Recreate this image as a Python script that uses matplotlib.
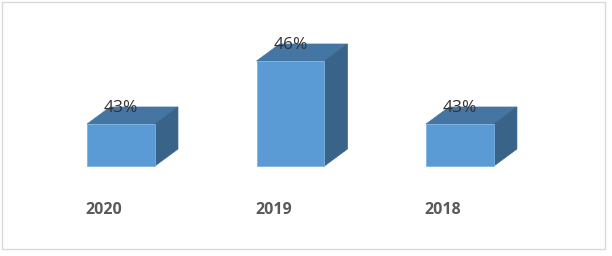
import matplotlib.pyplot as plt
from matplotlib.patches import Polygon, Rectangle

years = ['2020', '2019', '2018']
values = [43, 46, 43]
labels = ['43%', '46%', '43%']
base = 41

front = '#5b9bd5'
top = '#4575a3'
side = '#3a6389'

fig = plt.figure(figsize=(6.12, 2.56), dpi=100)
ax = fig.add_axes([0, 0, 1, 1])
ax.set_xlim(-0.714, 2.897)
ax.set_ylim(36.714, 48.905)
ax.axis('off')

w = 0.4
dx, dy = 0.136, 0.81  # depth of the 3d box

x = list(range(len(years)))
ax.bar(x, [v - base for v in values], bottom=base, width=w, color=front,
       edgecolor='#7fb2e0', linewidth=0.6, zorder=3)

for i, v in zip(x, values):
    l, r = i - w / 2, i + w / 2
    ax.add_patch(Polygon([(l, v), (r, v), (r + dx, v + dy), (l + dx, v + dy)],
                         closed=True, facecolor=top, edgecolor=top, lw=0.5, zorder=2))
    ax.add_patch(Polygon([(r, base), (r, v), (r + dx, v + dy), (r + dx, base + dy)],
                         closed=True, facecolor=side, edgecolor=side, lw=0.5, zorder=2))

for i, v, t in zip(x, values, labels):
    ax.text(i, v + dy - 0.05, t, ha='center', va='center', fontsize=12.5,
            family='Open Sans', color='#333333', zorder=4)

for i, y in zip(x, years):
    ax.text(i - 0.1, 38.9, y, ha='center', va='center', fontsize=11.5,
            family='Open Sans', fontweight='bold', color='#595959')

fig.patches.append(Rectangle((2 / 612, 1 - 249 / 256), 603 / 612, 247 / 256,
                             transform=fig.transFigure, fill=False,
                             edgecolor='#d9d9d9', linewidth=1))

fig.savefig('out.png', dpi=100)
